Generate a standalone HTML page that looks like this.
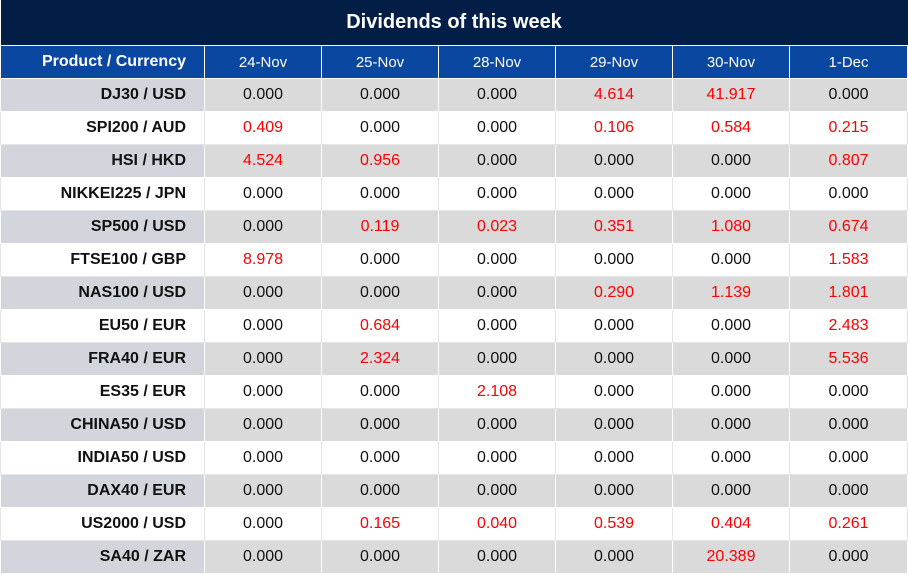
<!DOCTYPE html>
<html><head><style>
body{margin:0;width:908px;height:573px;background:#fff;font-family:"Liberation Sans",sans-serif;overflow:hidden}
table{border-collapse:collapse;table-layout:fixed;width:907px;position:absolute;top:0;left:0}
td{padding:0;height:32px;border:1px solid #fff;text-align:center;font-size:16px;color:#111}
.t td{height:45px;background:#021e46;color:#fff;font-weight:bold;font-size:20px;border:none;border-bottom:1px solid #fff}
.h td{height:32px;background:#0a47a0;color:#fff;font-size:15px}
.h td:first-child{font-weight:bold;font-size:16px;text-align:right;padding-right:18px}
td.p{text-align:right;padding-right:18px;font-weight:bold;font-size:16px}
tr.g td{background:#dadada}
tr.g td.p{background:#d2d5db}
tr.w td{border-color:#e6e6e6}
.r{color:#f00}
</style></head><body>
<table>
<col style="width:204px"><col style="width:117px"><col style="width:117px"><col style="width:117px"><col style="width:117px"><col style="width:117px"><col style="width:118px">
<tr class="t"><td colspan="7">Dividends of this week</td></tr>
<tr class="h"><td>Product / Currency</td><td>24-Nov</td><td>25-Nov</td><td>28-Nov</td><td>29-Nov</td><td>30-Nov</td><td>1-Dec</td></tr>
<tr class="g"><td class="p">DJ30 / USD</td><td>0.000</td><td>0.000</td><td>0.000</td><td class="r">4.614</td><td class="r">41.917</td><td>0.000</td></tr>
<tr class="w"><td class="p">SPI200 / AUD</td><td class="r">0.409</td><td>0.000</td><td>0.000</td><td class="r">0.106</td><td class="r">0.584</td><td class="r">0.215</td></tr>
<tr class="g"><td class="p">HSI / HKD</td><td class="r">4.524</td><td class="r">0.956</td><td>0.000</td><td>0.000</td><td>0.000</td><td class="r">0.807</td></tr>
<tr class="w"><td class="p">NIKKEI225 / JPN</td><td>0.000</td><td>0.000</td><td>0.000</td><td>0.000</td><td>0.000</td><td>0.000</td></tr>
<tr class="g"><td class="p">SP500 / USD</td><td>0.000</td><td class="r">0.119</td><td class="r">0.023</td><td class="r">0.351</td><td class="r">1.080</td><td class="r">0.674</td></tr>
<tr class="w"><td class="p">FTSE100 / GBP</td><td class="r">8.978</td><td>0.000</td><td>0.000</td><td>0.000</td><td>0.000</td><td class="r">1.583</td></tr>
<tr class="g"><td class="p">NAS100 / USD</td><td>0.000</td><td>0.000</td><td>0.000</td><td class="r">0.290</td><td class="r">1.139</td><td class="r">1.801</td></tr>
<tr class="w"><td class="p">EU50 / EUR</td><td>0.000</td><td class="r">0.684</td><td>0.000</td><td>0.000</td><td>0.000</td><td class="r">2.483</td></tr>
<tr class="g"><td class="p">FRA40 / EUR</td><td>0.000</td><td class="r">2.324</td><td>0.000</td><td>0.000</td><td>0.000</td><td class="r">5.536</td></tr>
<tr class="w"><td class="p">ES35 / EUR</td><td>0.000</td><td>0.000</td><td class="r">2.108</td><td>0.000</td><td>0.000</td><td>0.000</td></tr>
<tr class="g"><td class="p">CHINA50 / USD</td><td>0.000</td><td>0.000</td><td>0.000</td><td>0.000</td><td>0.000</td><td>0.000</td></tr>
<tr class="w"><td class="p">INDIA50 / USD</td><td>0.000</td><td>0.000</td><td>0.000</td><td>0.000</td><td>0.000</td><td>0.000</td></tr>
<tr class="g"><td class="p">DAX40 / EUR</td><td>0.000</td><td>0.000</td><td>0.000</td><td>0.000</td><td>0.000</td><td>0.000</td></tr>
<tr class="w"><td class="p">US2000 / USD</td><td>0.000</td><td class="r">0.165</td><td class="r">0.040</td><td class="r">0.539</td><td class="r">0.404</td><td class="r">0.261</td></tr>
<tr class="g"><td class="p">SA40 / ZAR</td><td>0.000</td><td>0.000</td><td>0.000</td><td>0.000</td><td class="r">20.389</td><td>0.000</td></tr>
</table>
</body></html>
